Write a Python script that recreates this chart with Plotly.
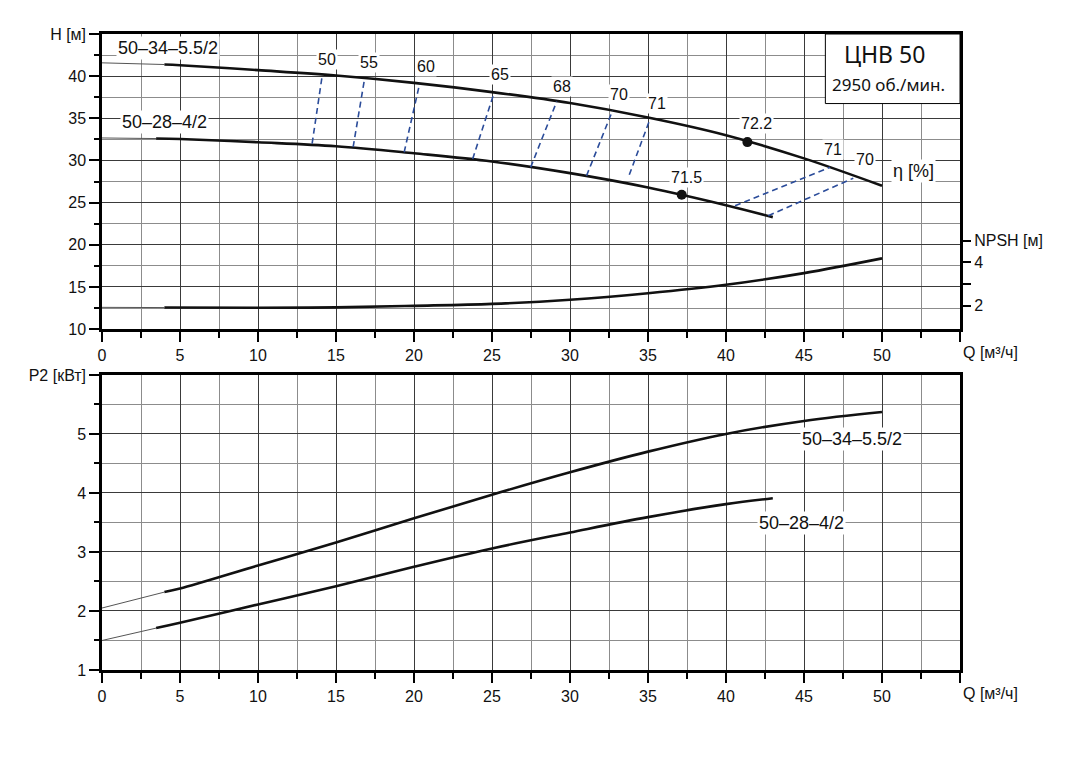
import plotly.graph_objects as go

# --- напор H(Q), м ---
q_h34_thin = [0, 4]
h34_thin = [41.58, 41.38]
q_h34 = [4, 5, 10, 15, 20, 25, 30, 35, 40, 45, 50]
h34 = [41.38, 41.30, 40.71, 40.07, 39.2, 38.11, 36.81, 35.1, 33.0, 30.25, 27.0]

q_h28_thin = [0, 3.47]
h28_thin = [32.67, 32.6]
q_h28 = [3.47, 5, 10, 15, 20, 25, 30, 35, 40, 43.0]
h28 = [32.6, 32.55, 32.16, 31.69, 30.85, 29.88, 28.5, 26.8, 24.7, 23.28]

# --- NPSH(Q), м ---
q_npsh_thin = [0, 4]
npsh_thin = [1.93, 1.92]
q_npsh = [4, 10, 15, 20, 25, 30, 35, 40, 45, 50]
npsh = [1.92, 1.91, 1.93, 2.0, 2.09, 2.28, 2.58, 2.97, 3.51, 4.19]

# --- мощность P2(Q), кВт ---
q_p34_thin = [0, 4]
p34_thin = [2.05, 2.32]
q_p34 = [4, 5, 10, 15, 20, 25, 30, 35, 40, 45, 50]
p34 = [2.32, 2.38, 2.77, 3.16, 3.57, 3.97, 4.35, 4.70, 5.0, 5.22, 5.37]

q_p28_thin = [0, 3.47]
p28_thin = [1.50, 1.71]
q_p28 = [3.47, 5, 10, 15, 20, 25, 30, 35, 40, 43.0]
p28 = [1.71, 1.80, 2.11, 2.42, 2.75, 3.06, 3.33, 3.59, 3.81, 3.91]

# --- линии равного КПД, % ---
eff_labels = ["50", "55", "60", "65", "68", "70", "71"]
eff_q_top = [14.11, 16.83, 20.36, 25.13, 29.15, 32.73, 35.13]
eff_h_top = [40.0, 39.68, 39.1, 38.0, 37.0, 35.93, 34.91]
eff_q_bot = [13.47, 16.1, 19.37, 23.76, 27.48, 31.06, 33.8]
eff_h_bot = [32.0, 31.6, 30.97, 30.17, 29.2, 28.19, 28.3]

eff_r_labels = ["71", "70"]
eff_r_q_lo = [40.58, 42.71]
eff_r_h_lo = [24.63, 23.44]
eff_r_q_hi = [46.67, 48.16]
eff_r_h_hi = [29.2, 27.9]

# точки максимального КПД
best_labels = ["72.2", "71.5"]
best_q = [41.37, 37.16]
best_h = [32.18, 25.93]

FONT = "Liberation Sans, Arial, sans-serif"
BLUE = "#2b4c9a"
BLACK = "#111111"


def line(fig, x, y, xa="x", ya="y", width=2.6, color=BLACK, dash=None):
    fig.add_trace(go.Scatter(
        x=x, y=y, xaxis=xa, yaxis=ya, mode="lines",
        line=dict(width=width, color=color, dash=dash, shape="spline", smoothing=1.0),
        hoverinfo="skip", showlegend=False,
    ))


fig = go.Figure()

# верхний график: H и NPSH
line(fig, q_h34_thin, h34_thin, width=1, color="#555555")
line(fig, q_h34, h34)
line(fig, q_h28_thin, h28_thin, width=1, color="#555555")
line(fig, q_h28, h28)
line(fig, q_npsh_thin, npsh_thin, ya="y3", width=1, color="#555555")
line(fig, q_npsh, npsh, ya="y3")

ex, ey = [], []
for qt, ht, qb, hb in zip(eff_q_top, eff_h_top, eff_q_bot, eff_h_bot):
    ex += [qb, qt, None]
    ey += [hb, ht, None]
for ql, hl, qh, hh in zip(eff_r_q_lo, eff_r_h_lo, eff_r_q_hi, eff_r_h_hi):
    ex += [ql, qh, None]
    ey += [hl, hh, None]
fig.add_trace(go.Scatter(
    x=ex, y=ey, mode="lines", line=dict(color=BLUE, width=1.6, dash="6px,4px"),
    hoverinfo="skip", showlegend=False,
))

fig.add_trace(go.Scatter(
    x=best_q, y=best_h, mode="markers", marker=dict(size=10, color=BLACK),
    hoverinfo="skip", showlegend=False,
))

# нижний график: P2
line(fig, q_p34_thin, p34_thin, xa="x2", ya="y2", width=1, color="#555555")
line(fig, q_p34, p34, xa="x2", ya="y2")
line(fig, q_p28_thin, p28_thin, xa="x2", ya="y2", width=1, color="#555555")
line(fig, q_p28, p28, xa="x2", ya="y2")

x_major = list(range(0, 60, 5))
x_text = [str(v) for v in range(0, 55, 5)] + [""]
x_minor = [v + 2.5 for v in range(0, 55, 5)]


def x_axis(anchor):
    return dict(
        range=[0, 55], anchor=anchor, tickmode="array", tickvals=x_major, ticktext=x_text,
        ticks="outside", ticklen=10, tickwidth=2, tickcolor="black",
        showline=True, linewidth=2.5, linecolor="black", mirror=True,
        showgrid=True, gridcolor="#3a3a3a", gridwidth=1, zeroline=False, automargin=False,
        minor=dict(tickvals=x_minor, ticks="outside", ticklen=6, tickwidth=2, tickcolor="black",
                   showgrid=True, gridcolor="#8c8c8c", gridwidth=1),
        tickfont=dict(size=16, color=BLACK, family=FONT),
    )


# страница имеет отступ 8px, поэтому поля уменьшены на эту величину
fig.update_layout(
    width=1072, height=770,
    margin=dict(l=94, r=120, t=26, b=108),
    paper_bgcolor="white", plot_bgcolor="white",
    showlegend=False,
    font=dict(family=FONT, color=BLACK, size=16),
    xaxis=x_axis("y"),
    xaxis2=x_axis("y2"),
    yaxis=dict(
        domain=[0.536, 1], range=[10, 45], tickmode="array",
        tickvals=list(range(10, 50, 5)),
        ticktext=[str(v) for v in range(10, 45, 5)] + ["H [м]"],
        ticks="outside", ticklen=10, tickwidth=2, tickcolor="black",
        showline=True, linewidth=2.5, linecolor="black", mirror=True,
        showgrid=True, gridcolor="#3a3a3a", gridwidth=1, zeroline=False, automargin=False,
        minor=dict(tickvals=[v + 2.5 for v in range(10, 45, 5)], ticks="outside", ticklen=5,
                   tickwidth=2, tickcolor="black", showgrid=True, gridcolor="#8c8c8c", gridwidth=1),
        tickfont=dict(size=16, family=FONT),
    ),
    yaxis3=dict(
        overlaying="y", anchor="x", side="right", range=[0.926, 14.545],
        tickmode="array", tickvals=[2, 3, 4, 5], ticktext=["2", "", "4", "NPSH [м]"],
        ticks="outside", ticklen=10, tickwidth=1.5, tickcolor="black",
        showgrid=False, showline=False, zeroline=False, automargin=False,
        tickfont=dict(size=16, family=FONT),
    ),
    yaxis2=dict(
        domain=[0, 0.464], range=[1, 6], tickmode="array",
        tickvals=[1, 2, 3, 4, 5, 6], ticktext=["1", "2", "3", "4", "5", "P2 [кВт]"],
        ticks="outside", ticklen=10, tickwidth=2, tickcolor="black",
        showline=True, linewidth=2.5, linecolor="black", mirror=True,
        showgrid=True, gridcolor="#3a3a3a", gridwidth=1, zeroline=False, automargin=False,
        minor=dict(tickvals=[1.5, 2.5, 3.5, 4.5, 5.5], ticks="outside", ticklen=5,
                   tickwidth=2, tickcolor="black", showgrid=True, gridcolor="#8c8c8c", gridwidth=1),
        tickfont=dict(size=16, family=FONT),
    ),
)

# рамка с названием насоса
fig.add_shape(type="rect", xref="x", yref="y", x0=46.37, x1=55, y0=36.75, y1=45,
              line=dict(color="black", width=1), fillcolor="white", layer="above")


def label(text, x, y, xref="x", yref="y", size=16, family=FONT, bg="white", **kw):
    fig.add_annotation(text=text, x=x, y=y, xref=xref, yref=yref, showarrow=False,
                       font=dict(size=size, family=family, color=BLACK),
                       bgcolor=bg, borderpad=1, **kw)


label("ЦНВ 50", 50.16, 42.57, size=23, family="Noto Sans", bg=None)
label("2950 об./мин.", 50.4, 39.0, size=17, family="Noto Sans", bg=None)

label("50–34–5.5/2", 4.24, 43.36, size=18)
label("50–28–4/2", 3.98, 34.53, size=18)

eff_label_q = [14.4, 17.09, 20.74, 25.5, 29.47, 33.16, 35.56]
eff_label_h = [41.97, 41.66, 41.18, 40.17, 38.78, 37.8, 36.8]
for t, x, y in zip(eff_labels, eff_label_q, eff_label_h):
    label(t, x, y)
for t, x, y in zip(eff_r_labels, [46.88, 48.9], [31.27, 30.08]):
    label(t, x, y)
for t, x, y in zip(best_labels, [41.96, 37.48], [34.35, 27.95]):
    label(t, x, y)
label("η [%]", 52.0, 28.7, size=18)

label("50–34–5.5/2", 48.05, 4.92, xref="x2", yref="y2", size=18)
label("50–28–4/2", 44.84, 3.49, xref="x2", yref="y2", size=18)

for xr, yr, y0 in [("x", "y", 10), ("x2", "y2", 1)]:
    fig.add_annotation(text="Q [м³/ч]", x=55, y=y0, xref=xr, yref=yr,
                       xanchor="left", yanchor="top", xshift=1, yshift=-13, showarrow=False,
                       font=dict(size=16, family=FONT, color=BLACK))

fig.write_html("out.html")
